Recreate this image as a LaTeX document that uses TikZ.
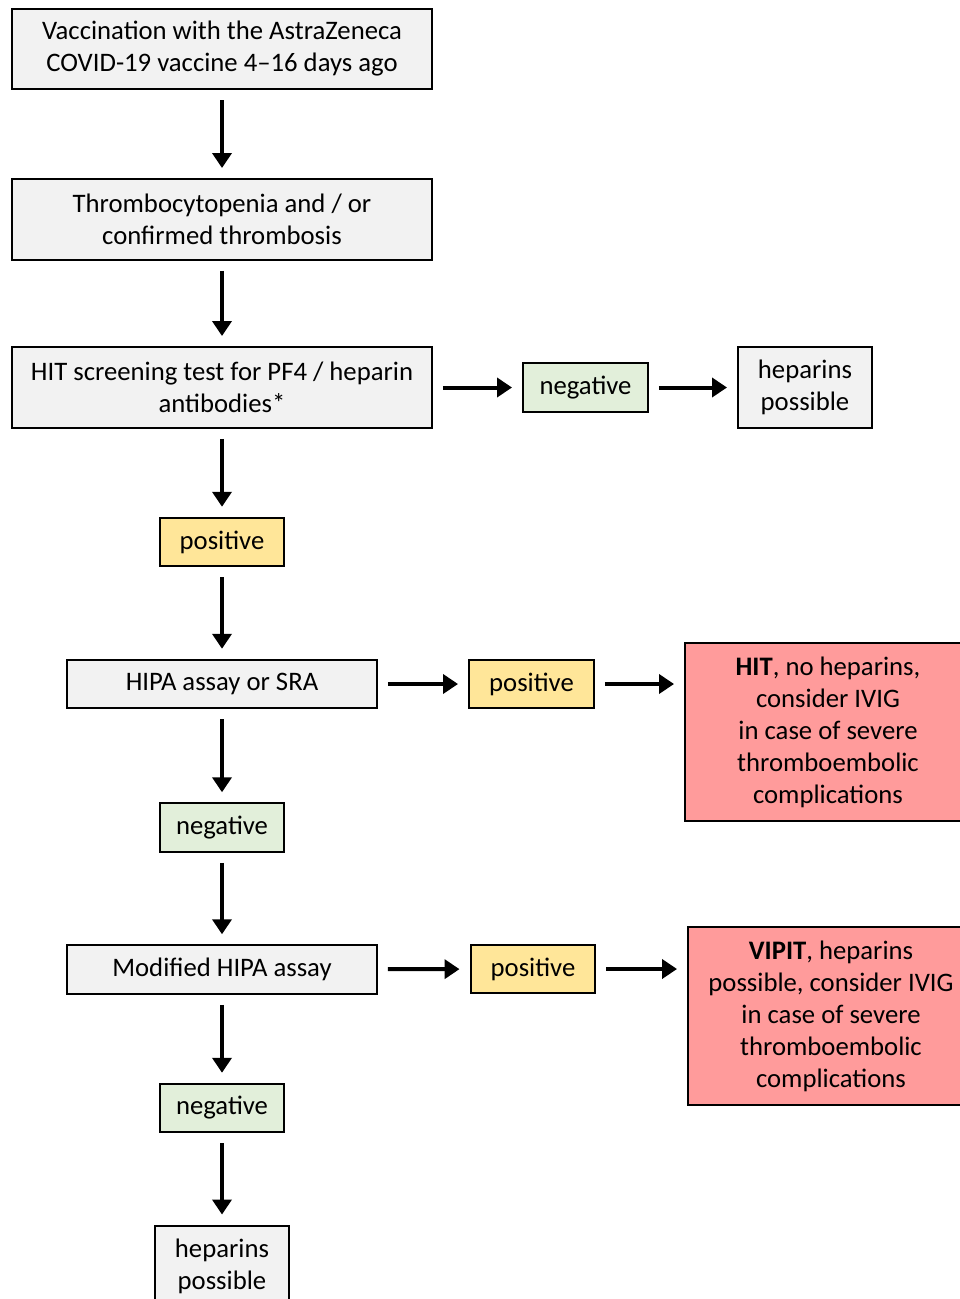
\documentclass[tikz,border=0pt]{standalone}
\usepackage{fontspec}
\setmainfont{Carlito}
\usetikzlibrary{arrows.meta}

\definecolor{boxgray}{HTML}{F2F2F2}
\definecolor{boxgreen}{HTML}{E2EFDA}
\definecolor{boxyellow}{HTML}{FFE699}
\definecolor{boxred}{HTML}{FF9B9B}

\tikzset{
  box/.style={draw=black, line width=0.04cm, fill=boxgray, align=center, inner sep=0pt,
    font=\fontsize{15.2}{18.2}\selectfont},
  widebox/.style={box, minimum width=8.4cm, minimum height=1.62cm},
  midbox/.style={box, minimum width=6.2cm, minimum height=0.97cm},
  resbox/.style={box, minimum width=2.5cm, minimum height=0.97cm},
  negbox/.style={resbox, fill=boxgreen},
  posbox/.style={resbox, fill=boxyellow},
  hepbox/.style={box, minimum width=2.68cm, minimum height=1.62cm},
  redbox/.style={box, fill=boxred, minimum width=5.72cm, minimum height=3.56cm},
  arr/.style={line width=0.08cm, -{Triangle[length=0.3cm, width=0.38cm]},
    shorten <=0.2cm, shorten >=0.2cm}
}

\begin{document}
\begin{tikzpicture}[x=0.02cm, y=-0.02cm]
\useasboundingbox (0,0) rectangle (960,1299);

% main column
\node[widebox] (vacc) at (222,49) {Vaccination with the AstraZeneca\\COVID-19 vaccine 4--16 days ago};
\node[widebox] (thromb) at (222,219.5) {Thrombocytopenia and / or\\confirmed thrombosis};
\node[widebox] (screen) at (222,387.5) {HIT screening test for PF4 / heparin\\antibodies*};
\node[posbox] (pos1) at (222,542) {positive};
\node[midbox] (hipa) at (222,684) {HIPA assay or SRA};
\node[negbox] (neg2) at (222,827.5) {negative};
\node[midbox] (mhipa) at (222,969.5) {Modified HIPA assay};
\node[negbox] (neg3) at (222,1108) {negative};
\node[hepbox] (hep2) at (222,1266) {heparins\\possible};

% right side
\node[negbox] (neg1) at (585.5,387.5) {negative};
\node[hepbox] (hep1) at (805,387.5) {heparins\\possible};
\node[posbox] (pos2) at (531.5,684) {positive};
\node[redbox] (hit) at (828,732) {\textbf{HIT}, no heparins,\\consider IVIG\\in case of severe\\thromboembolic\\complications};
\node[posbox] (pos3) at (533,969) {positive};
\node[redbox] (vipit) at (831,1016) {\textbf{VIPIT}, heparins\\possible, consider IVIG\\in case of severe\\thromboembolic\\complications};

% arrows
\draw[arr] (vacc) -- (thromb);
\draw[arr] (thromb) -- (screen);
\draw[arr] (screen) -- (pos1);
\draw[arr] (pos1) -- (hipa);
\draw[arr] (hipa) -- (neg2);
\draw[arr] (neg2) -- (mhipa);
\draw[arr] (mhipa) -- (neg3);
\draw[arr] (neg3) -- (hep2);
\draw[arr] (screen) -- (neg1);
\draw[arr] (neg1) -- (hep1);
\draw[arr] (hipa) -- (pos2);
\draw[arr] (pos2.east) -- (pos2.east -| hit.west);
\draw[arr] (mhipa) -- (pos3);
\draw[arr] (pos3.east) -- (pos3.east -| vipit.west);
\end{tikzpicture}
\end{document}
